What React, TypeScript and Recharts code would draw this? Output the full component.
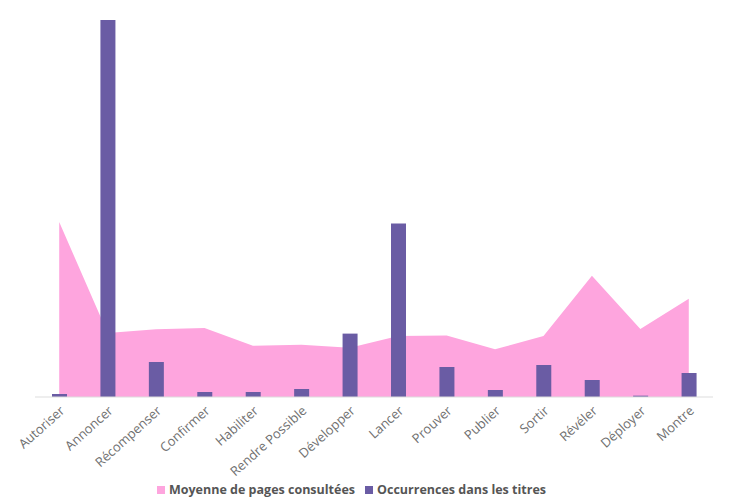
import { Area, Bar, ComposedChart, Legend, XAxis, YAxis } from "recharts";

const verbs = [
  "Autoriser", "Annoncer", "Récompenser", "Confirmer", "Habiliter", "Rendre Possible", "Développer",
  "Lancer", "Prouver", "Publier", "Sortir", "Révéler", "Déployer", "Montre",
];
const avgPages = [5.2, 1.9, 2.01, 2.05, 1.52, 1.55, 1.46, 1.81, 1.83, 1.42, 1.81, 3.6, 2.02, 2.92];
const titleHits = [0.9, 113, 10.5, 1.5, 1.5, 2.4, 19, 52, 9, 2.1, 9.6, 5.1, 0.4, 7.2];

const data = verbs.map((name, i) => ({ name, pages: avgPages[i], hits: titleHits[i] }));

const PINK = "#FEA5DE";
const PURPLE = "#6A5CA4";

const legendText = (value: string) => (
  <span style={{ color: "#555", fontWeight: 700, fontSize: 12.5 }}>{value}</span>
);

export default function App() {
  return (
    <div style={{ position: "absolute", left: 0, top: 0, fontFamily: "'Open Sans', sans-serif" }}>
      <ComposedChart width={736} height={504} data={data} margin={{ top: 20, right: 23, left: 35, bottom: 4 }}>
        <XAxis
          dataKey="name"
          interval={0}
          angle={-42}
          textAnchor="end"
          height={80}
          tickLine={false}
          axisLine={{ stroke: "#dddddd" }}
          tick={{ fontSize: 13, fill: "#6f6f6f" }}
        />
        <YAxis yAxisId="pages" hide domain={[0, 11.2]} />
        <YAxis yAxisId="hits" hide domain={[0, 113]} />
        <Legend
          verticalAlign="bottom"
          iconType="square"
          iconSize={8}
          height={23}
          wrapperStyle={{ left: 0, width: 713 }}
          formatter={legendText}
        />
        <Area
          yAxisId="pages"
          type="linear"
          dataKey="pages"
          name="Moyenne de pages consultées"
          fill={PINK}
          fillOpacity={1}
          stroke="none"
          isAnimationActive={false}
        />
        <Bar
          yAxisId="hits"
          dataKey="hits"
          name="Occurrences dans les titres"
          fill={PURPLE}
          barSize={15}
          isAnimationActive={false}
        />
      </ComposedChart>
    </div>
  );
}
